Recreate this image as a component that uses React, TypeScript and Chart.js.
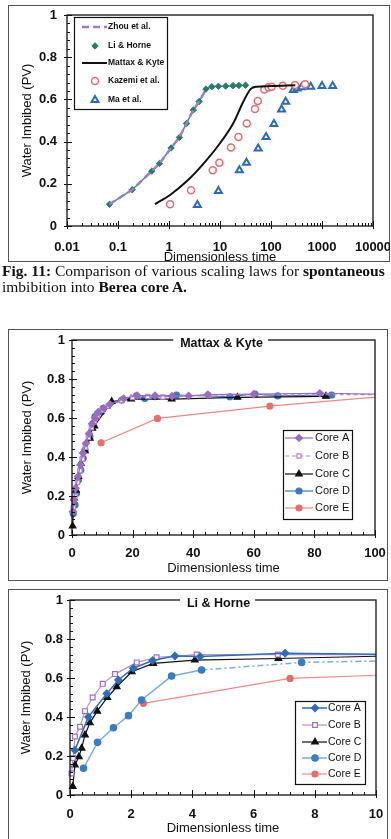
import React, { useEffect, useRef } from 'react';
import { Chart, registerables } from 'chart.js';
import { drawPoint } from 'chart.js/helpers';

Chart.register(...registerables);

const SANS = "'Liberation Sans', Arial, sans-serif";
const SERIF = "'Liberation Serif', 'Times New Roman', serif";

// ---------- Chart 1 : comparison of scaling laws (log x) ----------
const logTicks = [0.01, 0.1, 1, 10, 100, 1000, 10000];
const zhouX = [0.068, 0.19, 0.46, 0.65, 1.1, 1.6, 2.2, 3.0, 3.9, 5.3];
const zhouY = [0.103, 0.172, 0.26, 0.296, 0.37, 0.42, 0.486, 0.55, 0.59, 0.647];
const lhX = [0.068, 0.19, 0.46, 0.65, 1.1, 1.6, 2.2, 3.0, 3.9, 5.3, 6.9, 9.3, 12.9, 18, 23.5, 31.7];
const lhY = [0.103, 0.172, 0.26, 0.296, 0.37, 0.42, 0.486, 0.55, 0.59, 0.649, 0.66, 0.662, 0.663, 0.665, 0.666, 0.667];
const mkX = [0.53, 1.05, 2.57, 5.5, 10, 18.2, 28.6, 39.8, 52, 100, 300];
const mkY = [0.104, 0.147, 0.226, 0.313, 0.392, 0.487, 0.589, 0.649, 0.66, 0.663, 0.667];
const kazX = [1.05, 2.7, 7.2, 9.7, 16.4, 23, 33.5, 48.5, 55, 74, 89, 103, 170, 295, 465];
const kazY = [0.103, 0.169, 0.264, 0.3, 0.372, 0.422, 0.486, 0.554, 0.592, 0.647, 0.657, 0.66, 0.665, 0.668, 0.672];
const maX = [3.6, 9.3, 24, 33, 56, 80, 114, 161, 194, 275, 326, 398, 600, 1000, 1620];
const maY = [0.1, 0.166, 0.264, 0.3, 0.367, 0.422, 0.483, 0.552, 0.589, 0.644, 0.652, 0.657, 0.66, 0.663, 0.663];

// ---------- Chart 2 : Mattax & Kyte (x 0..100) ----------
const mA_X = [0.3, 0.7, 1.2, 2.0, 2.8, 3.6, 4.6, 5.6, 6.6, 7.6, 8.6, 10.5, 12.5, 17, 21.5, 27.4, 33, 38.5, 44.8, 60, 81.8, 110];
const mA_Y = [0.12, 0.18, 0.24, 0.3, 0.36, 0.42, 0.47, 0.52, 0.57, 0.6, 0.63, 0.65, 0.67, 0.7, 0.715, 0.715, 0.712, 0.713, 0.72, 0.722, 0.727, 0.72];
const mB_X = [0.4, 1.0, 1.8, 2.6, 3.4, 4.4, 5.4, 6.4, 7.4, 8.4, 10, 12, 16.5, 20, 25, 30, 45, 110];
const mB_Y = [0.14, 0.2, 0.27, 0.33, 0.39, 0.45, 0.5, 0.55, 0.58, 0.61, 0.64, 0.66, 0.69, 0.705, 0.71, 0.708, 0.718, 0.72];
const mC_X = [0.2, 0.66, 1.3, 2.1, 2.9, 4.3, 5.9, 6.7, 7.4, 13.1, 19.5, 32.9, 54.6, 83.8];
const mC_Y = [0.046, 0.188, 0.23, 0.3, 0.367, 0.432, 0.496, 0.547, 0.559, 0.684, 0.697, 0.697, 0.706, 0.711];
const mD_X = [0.4, 1.0, 1.5, 2.1, 2.9, 3.7, 4.3, 5.9, 7.0, 7.6, 9.8, 10.3, 16.4, 21.3, 24, 27.4, 34.5, 52.1, 60.4, 67.9, 85.7];
const mD_Y = [0.11, 0.154, 0.214, 0.282, 0.333, 0.393, 0.436, 0.504, 0.573, 0.607, 0.632, 0.65, 0.692, 0.713, 0.7, 0.71, 0.718, 0.709, 0.723, 0.713, 0.718];
const mE_X = [9.6, 28.2, 65.3, 110];
const mE_Y = [0.473, 0.598, 0.661, 0.72];

// ---------- Chart 3 : Li & Horne (x 0..10) ----------
const hA_X = [0.16, 0.6, 1.2, 1.58, 2.07, 2.7, 3.43, 4.25, 7.03, 11];
const hA_Y = [0.23, 0.4, 0.52, 0.59, 0.65, 0.69, 0.713, 0.71, 0.727, 0.72];
const hB_X = [0.05, 0.1, 0.16, 0.33, 0.49, 0.74, 1.07, 1.47, 2.18, 2.83, 4.14, 6.79, 11];
const hB_Y = [0.11, 0.19, 0.3, 0.35, 0.43, 0.5, 0.57, 0.62, 0.68, 0.706, 0.72, 0.72, 0.72];
const hC_X = [0.09, 0.16, 0.29, 0.38, 0.49, 0.65, 0.89, 1.22, 1.53, 2.02, 2.72, 4.08, 6.81, 11];
const hC_Y = [0.043, 0.154, 0.196, 0.24, 0.308, 0.37, 0.43, 0.5, 0.555, 0.632, 0.675, 0.692, 0.7, 0.715];
const hD_X = [0.44, 0.9, 1.42, 1.91, 2.34, 3.32, 4.3, 7.57, 11];
const hD_Y = [0.137, 0.27, 0.345, 0.407, 0.487, 0.61, 0.641, 0.68, 0.69];
const hE_X = [2.4, 7.19, 11];
const hE_Y = [0.47, 0.598, 0.62];

const pts = (xs: number[], ys: number[]) => xs.map((x, i) => ({ x, y: ys[i] }));

// ---------- plugins ----------
const boxTicks = {
  id: 'boxTicks',
  afterDatasetsDraw(chart: any, _a: any, o: any) {
    const { ctx, chartArea: a } = chart;
    const xs = chart.scales.x;
    const ys = chart.scales.y;
    ctx.save();
    ctx.strokeStyle = '#111';
    ctx.lineWidth = 1.3;
    ctx.strokeRect(a.left, a.top, a.right - a.left, a.bottom - a.top);
    ctx.lineWidth = 1;
    ctx.beginPath();
    const ny = Math.round((ys.max - ys.min) / o.yMinor);
    for (let i = 0; i <= ny; i++) {
      const p = Math.round(ys.getPixelForValue(ys.min + i * o.yMinor)) + 0.5;
      const major = i % o.yEvery === 0;
      ctx.moveTo(a.left - (major ? 3 : 0), p);
      ctx.lineTo(a.left + (major ? 5 : 3), p);
    }
    const xt = (v: number, major: boolean) => {
      const p = Math.round(xs.getPixelForValue(v)) + 0.5;
      ctx.moveTo(p, a.bottom + (major ? 3 : 0));
      ctx.lineTo(p, a.bottom - (major ? 5 : 3));
    };
    if (o.log) {
      for (let e = -2; e <= 3; e++) for (let m = 1; m <= 9; m++) xt(m * Math.pow(10, e), m === 1);
      xt(10000, true);
    } else {
      const nx = Math.round((xs.max - xs.min) / o.xMinor);
      for (let i = 0; i <= nx; i++) xt(xs.min + i * o.xMinor, i % o.xEvery === 0);
    }
    ctx.stroke();
    ctx.restore();
  },
};

const topTitle = {
  id: 'topTitle',
  afterDraw(chart: any, _a: any, o: any) {
    if (!o.text) return;
    const { ctx, chartArea: a } = chart;
    ctx.save();
    ctx.font = o.font;
    const w = ctx.measureText(o.text).width;
    const cx = (a.left + a.right) / 2 + (o.dx || 0);
    ctx.fillStyle = '#fff';
    ctx.fillRect(cx - w / 2 - 7, a.top - 3, w + 12, 6);
    ctx.fillStyle = '#111';
    ctx.textAlign = 'center';
    ctx.textBaseline = 'middle';
    ctx.fillText(o.text, cx, a.top + 3.5);
    ctx.restore();
  },
};

const boxLegend = {
  id: 'boxLegend',
  afterDraw(chart: any, _a: any, o: any) {
    if (!o.rows) return;
    const ctx = chart.ctx;
    ctx.save();
    ctx.fillStyle = '#fff';
    ctx.fillRect(o.x, o.y, o.w, o.h);
    ctx.strokeStyle = '#111';
    ctx.lineWidth = 1.2;
    ctx.strokeRect(o.x + 0.5, o.y + 0.5, o.w, o.h);
    chart.data.datasets.forEach((ds: any, i: number) => {
      const yy = o.rows[i];
      if (ds.showLine !== false && ds.legendLine !== false) {
        ctx.save();
        ctx.strokeStyle = ds.borderColor;
        ctx.lineWidth = ds.borderWidth;
        ctx.setLineDash(ds.borderDash || []);
        ctx.beginPath();
        ctx.moveTo(o.lx0, yy);
        ctx.lineTo(o.lx1, yy);
        ctx.stroke();
        ctx.restore();
      }
      if (ds.pointRadius > 0) {
        ctx.save();
        ctx.fillStyle = ds.pointBackgroundColor;
        ctx.strokeStyle = ds.pointBorderColor;
        ctx.lineWidth = ds.pointBorderWidth || 1;
        drawPoint(ctx, { pointStyle: ds.pointStyle, rotation: 0, radius: ds.pointRadius, borderWidth: ds.pointBorderWidth || 1 } as any, o.mx, yy);
        ctx.restore();
      }
      ctx.fillStyle = '#111';
      ctx.font = o.font;
      ctx.textAlign = 'left';
      ctx.textBaseline = 'middle';
      ctx.fillText(ds.label, o.tx, yy);
    });
    ctx.restore();
  },
};

const tickFont = { family: SANS, size: 13, weight: 'bold' as const };
const titleFont = { family: SANS, size: 13, weight: 'normal' as const };

function yScale(width: number, tickPad: number, titlePad: number) {
  return {
    type: 'linear',
    position: 'left',
    min: 0,
    max: 1,
    grid: { display: false, drawTicks: false },
    border: { display: false },
    ticks: { stepSize: 0.2, font: tickFont, color: '#111', padding: tickPad, callback: (v: any) => String(Math.round(Number(v) * 10) / 10) },
    title: { display: true, text: 'Water Imbibed (PV)', font: titleFont, color: '#111', padding: { top: titlePad, bottom: 0 } },
    afterFit: (s: any) => {
      s.width = width;
      s.paddingTop = 0;
      s.paddingBottom = 0;
    },
  };
}

function xScale(extra: any, height: number, tickPad: number, titlePad: number) {
  return {
    position: 'bottom',
    grid: { display: false, drawTicks: false },
    border: { display: false },
    ...extra,
    ticks: { font: tickFont, color: '#111', padding: tickPad, maxRotation: 0, autoSkip: false, ...(extra.ticks || {}) },
    title: { display: true, text: 'Dimensionless time', font: titleFont, color: '#111', padding: { top: 0, bottom: titlePad } },
    afterFit: (s: any) => {
      s.height = height;
      s.paddingLeft = 0;
      s.paddingRight = 0;
    },
  };
}

function baseOptions(pad: any, x: any, y: any, plugins: any) {
  return {
    responsive: false,
    animation: false,
    events: [],
    layout: { padding: pad },
    plugins: { legend: { display: false }, tooltip: { enabled: false }, ...plugins },
    scales: { x, y },
  };
}

const CLIP = { left: 8, top: 8, right: 0, bottom: 8 };

function ds(label: string, data: any[], color: string, lineColor: string, style: string, r: number, fill: string, extra: any = {}) {
  return {
    label,
    data,
    borderColor: lineColor,
    backgroundColor: fill,
    borderWidth: 1.2,
    pointStyle: style,
    pointRadius: r,
    pointBorderColor: color,
    pointBackgroundColor: fill,
    pointBorderWidth: 1.2,
    tension: 0,
    clip: CLIP,
    ...extra,
  };
}

const chart1 = {
  type: 'line',
  data: {
    datasets: [
      { label: 'Zhou et al.', data: pts(zhouX, zhouY), borderColor: '#a07cc8', borderWidth: 2.5, borderDash: [7, 4], pointRadius: 0, pointStyle: 'line', pointBorderColor: '#a07cc8', pointBackgroundColor: '#a07cc8', order: 0 },
      { label: 'Li & Horne', data: pts(lhX, lhY), borderColor: '#3a9a84', borderWidth: 1.5, pointStyle: 'rectRot', pointRadius: 3.2, pointBackgroundColor: '#2a7a6a', pointBorderColor: '#2a7a6a', pointBorderWidth: 1, legendLine: false, order: 1 },
      { label: 'Mattax & Kyte', data: pts(mkX, mkY), borderColor: '#111', borderWidth: 2, pointRadius: 0, pointStyle: 'line', cubicInterpolationMode: 'monotone', pointBorderColor: '#111', pointBackgroundColor: '#111' },
      { label: 'Kazemi et al.', data: pts(kazX, kazY), showLine: false, borderColor: '#e86a6a', pointStyle: 'circle', pointRadius: 3.5, pointBorderWidth: 1.5, pointBorderColor: '#e86a6a', pointBackgroundColor: '#fff' },
      { label: 'Ma et al.', data: pts(maX, maY), showLine: false, borderColor: '#2b6cb8', pointStyle: 'triangle', pointRadius: 4, pointBorderWidth: 2, pointBorderColor: '#2b6cb8', pointBackgroundColor: '#fff' },
    ],
  },
  options: baseOptions(
    { left: 0, right: 17, top: 10, bottom: 0 },
    xScale(
      {
        type: 'logarithmic',
        min: 0.01,
        max: 10000,
        afterBuildTicks: (s: any) => {
          s.ticks = logTicks.map((v) => ({ value: v, major: true }));
        },
        ticks: { callback: (v: any) => String(Number(v)) },
      },
      40,
      14,
      1.2
    ),
    yScale(59, 10, 11.2),
    {
      boxTicks: { log: true, yMinor: 0.04, yEvery: 5 },
      boxLegend: { x: 66, y: 12, w: 93, h: 92, rows: [22, 41, 58, 76, 95], lx0: 74, lx1: 99, mx: 87, tx: 100, font: `bold 8.5px ${SANS}` },
    }
  ),
  plugins: [boxTicks, boxLegend],
};

const chart2 = {
  type: 'line',
  data: {
    datasets: [
      ds('Core A', pts(mA_X, mA_Y), '#9a6cc0', '#9a6cc0', 'rectRot', 3.5, '#9a6cc0'),
      ds('Core B', pts(mB_X, mB_Y), '#b08ad0', '#b08ad0', 'rect', 3, '#fff', { borderDash: [4, 3] }),
      ds('Core C', pts(mC_X, mC_Y), '#111', '#111', 'triangle', 3.8, '#111'),
      ds('Core D', pts(mD_X, mD_Y), '#3a78c2', '#3a78c2', 'circle', 3, '#3a78c2'),
      ds('Core E', pts(mE_X, mE_Y), '#e8706a', '#ee8a84', 'circle', 3, '#e8706a'),
    ],
  },
  options: baseOptions(
    { left: 0, right: 13, top: 11, bottom: 0 },
    xScale({ type: 'linear', min: 0, max: 100, ticks: { stepSize: 20 } }, 46, 10.7, 5.2),
    yScale(64, 7, 11.7),
    {
      boxTicks: { log: false, xMinor: 4, xEvery: 5, yMinor: 0.04, yEvery: 5 },
      topTitle: { text: 'Mattax & Kyte', font: `bold 12.5px ${SANS}`, dx: -2 },
      boxLegend: { x: 275, y: 101, w: 69, h: 89, rows: [109, 127, 145, 162, 179], lx0: 277, lx1: 305, mx: 291, tx: 307, font: `11px ${SANS}` },
    }
  ),
  plugins: [boxTicks, topTitle, boxLegend],
};

const chart3 = {
  type: 'line',
  data: {
    datasets: [
      ds('Core A', pts(hA_X, hA_Y), '#2e6eb8', '#2e6eb8', 'rectRot', 3.6, '#2e6eb8', { borderWidth: 1.5 }),
      ds('Core B', pts(hB_X, hB_Y), '#a070c0', '#b890d4', 'rect', 3.4, '#fff'),
      ds('Core C', pts(hC_X, hC_Y), '#111', '#111', 'triangle', 3.8, '#111'),
      ds('Core D', pts(hD_X, hD_Y), '#3a7cc4', '#78aee2', 'circle', 3.2, '#3a7cc4', {
        borderWidth: 1.5,
        segment: { borderDash: (c: any) => (c.p0.parsed.x >= 4 ? [6, 3, 2, 3] : undefined) },
      }),
      ds('Core E', pts(hE_X, hE_Y), '#e86a6a', '#f08a86', 'circle', 3, '#e86a6a'),
    ],
  },
  options: baseOptions(
    { left: 0, right: 12, top: 11, bottom: 0 },
    xScale({ type: 'linear', min: 0, max: 10, ticks: { stepSize: 2 } }, 44, 12, 3.2),
    yScale(62, 7, 10.9),
    {
      boxTicks: { log: false, xMinor: 0.4, xEvery: 5, yMinor: 0.04, yEvery: 5 },
      topTitle: { text: 'Li & Horne', font: `bold 12.5px ${SANS}`, dx: -4.5 },
      boxLegend: { x: 287, y: 112, w: 70, h: 83, rows: [119, 136, 153, 169, 185], lx0: 294, lx1: 319, mx: 307, tx: 320, font: `10.5px ${SANS}` },
    }
  ),
  plugins: [boxTicks, topTitle, boxLegend],
};

function ChartCanvas({ config, left, top, width, height }: any) {
  const ref = useRef<HTMLCanvasElement>(null);
  useEffect(() => {
    const c = new Chart(ref.current as HTMLCanvasElement, config as any);
    return () => c.destroy();
  }, [config]);
  return (
    <canvas
      ref={ref}
      width={width}
      height={height}
      style={{ position: 'absolute', left, top, width, height }}
    />
  );
}

function Frame({ left, top, width, height }: any) {
  return (
    <div
      style={{
        position: 'absolute',
        left,
        top,
        width,
        height,
        boxSizing: 'border-box',
        border: '1px solid #555',
      }}
    />
  );
}

export default function App() {
  return (
    <div
      style={{
        position: 'absolute',
        left: 0,
        top: 0,
        width: 391,
        height: 839,
        overflow: 'hidden',
        background: '#fff',
      }}
    >
      <Frame left={8} top={5} width={382} height={257} />
      <Frame left={8} top={329} width={380} height={252} />
      <Frame left={8} top={589} width={380} height={262} />
      <ChartCanvas config={chart1} left={8} top={5} width={382} height={261} />
      <div
        style={{
          position: 'absolute',
          left: 2,
          top: 263,
          fontFamily: SERIF,
          fontSize: 15.5,
          lineHeight: '16px',
          color: '#111',
          whiteSpace: 'nowrap',
        }}
      >
        <div>
          <b>Fig. 11:</b> Comparison of various scaling laws for <b>spontaneous</b>
        </div>
        <div>
          imbibition into <b>Berea core A.</b>
        </div>
      </div>
      <ChartCanvas config={chart2} left={8} top={329} width={380} height={252} />
      <ChartCanvas config={chart3} left={8} top={589} width={380} height={250} />
    </div>
  );
}
